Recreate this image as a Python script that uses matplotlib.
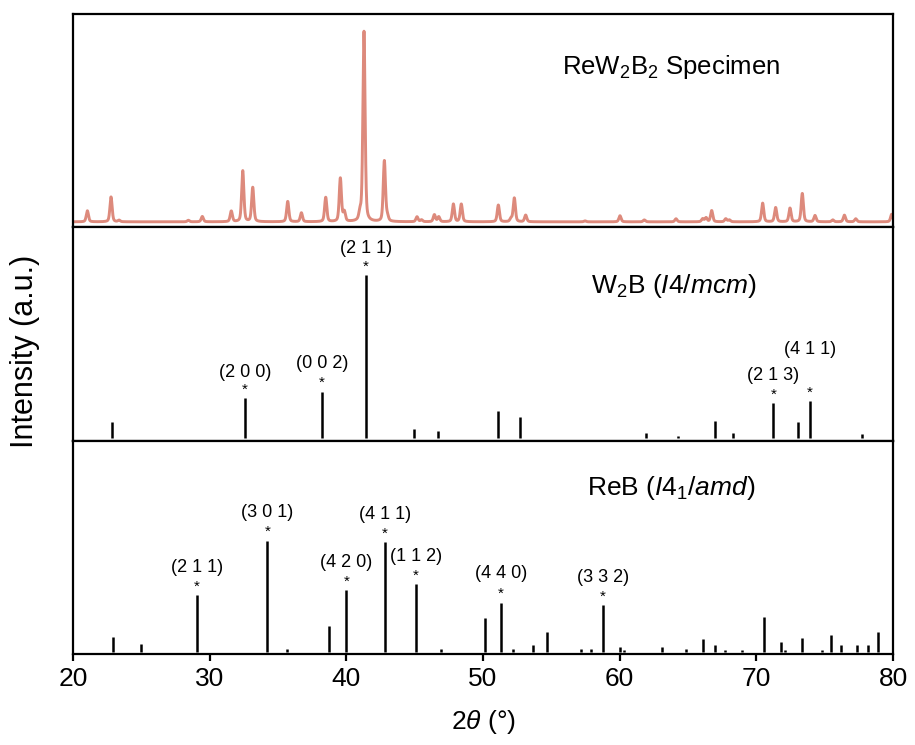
import numpy as np
import matplotlib
matplotlib.use("Agg")
import matplotlib.pyplot as plt

plt.rcParams['font.family'] = ['Liberation Sans', 'DejaVu Sans']
plt.rcParams['mathtext.fontset'] = 'custom'
plt.rcParams['mathtext.rm'] = 'Liberation Sans'
plt.rcParams['mathtext.it'] = 'Liberation Sans:italic'

# measured specimen pattern: peak positions (2theta) and relative heights
spec_pos = [21.05, 22.78, 23.37, 28.44, 29.46, 31.58, 32.42, 33.15, 35.71, 36.71,
            38.49, 39.56, 39.85, 41.00, 41.29, 42.78, 43.00, 45.17, 45.50, 46.44,
            46.76, 47.83, 48.41, 51.12, 52.05, 52.29, 53.12, 57.46, 60.02, 61.80,
            64.12, 66.07, 66.32, 66.73, 67.76, 68.02, 70.46, 71.41, 72.46, 73.36,
            74.29, 75.59, 76.44, 77.27, 79.90]
spec_int = [5.8, 13.1, 0.8, 0.8, 2.8, 5.6, 26.8, 18.0, 10.7, 4.7,
            12.8, 22.8, 5.0, 4.0, 100.0, 31.9, 2.5, 2.6, 1.0, 3.7,
            2.6, 9.3, 9.3, 8.8, 1.6, 12.5, 3.5, 0.5, 3.2, 1.0,
            1.6, 1.6, 2.1, 5.9, 1.6, 1.0, 9.8, 7.5, 7.2, 14.9,
            3.3, 1.0, 3.5, 1.6, 4.0]

# W2B (I4/mcm) reference lines
w2b_pos = [22.88, 32.59, 38.20, 41.41, 44.97, 46.73, 51.07, 52.68, 61.90, 64.27,
           66.95, 68.31, 71.24, 73.07, 73.93, 77.75]
w2b_int = [10.0, 24.3, 28.4, 100.0, 5.7, 4.3, 16.7, 12.7, 3.1, 1.4,
           10.6, 2.9, 21.4, 9.6, 22.5, 2.3]
w2b_hkl = ['(2 0 0)', '(0 0 2)', '(2 1 1)', '(2 1 3)', '(4 1 1)']
w2b_hkl_pos = [32.59, 38.20, 41.41, 71.24, 73.93]

# ReB (I41/amd) reference lines
reb_pos = [22.95, 24.95, 29.07, 34.22, 35.63, 38.71, 40.00, 42.83, 45.07, 46.95,
           50.15, 51.29, 52.22, 53.63, 54.66, 57.15, 57.88, 58.76, 60.02, 60.32,
           63.07, 64.83, 66.07, 66.98, 67.73, 68.97, 70.58, 71.80, 72.07, 73.36,
           74.83, 75.46, 76.17, 77.34, 78.20, 78.93]
reb_int = [13.7, 7.2, 51.0, 100.0, 2.7, 23.3, 55.8, 98.5, 61.1, 2.7,
           30.4, 44.5, 3.3, 6.3, 18.5, 2.7, 2.7, 42.1, 4.5, 2.4,
           5.1, 3.0, 12.3, 6.9, 2.4, 2.4, 31.3, 9.2, 2.4, 13.2,
           2.4, 15.5, 6.3, 6.3, 6.3, 17.9]
reb_hkl = ['(2 1 1)', '(3 0 1)', '(4 2 0)', '(4 1 1)', '(1 1 2)', '(4 4 0)', '(3 3 2)']
reb_hkl_pos = [29.07, 34.22, 40.00, 42.83, 45.07, 51.29, 58.76]


def pseudo_voigt(x, x0, h, fwhm=0.19, eta=0.4):
    g = np.exp(-4 * np.log(2) * (x - x0) ** 2 / fwhm ** 2)
    l = 1 / (1 + 4 * (x - x0) ** 2 / fwhm ** 2)
    return h * (eta * l + (1 - eta) * g)


def label_lines(ax, labels, positions, pos, inten, raise_px):
    for lab, x0 in zip(labels, positions):
        h = inten[pos.index(x0)]
        ax.annotate('*', (x0, h), xytext=(0, 4.5), textcoords='offset pixels',
                    ha='center', va='baseline', fontsize=11)
        ax.annotate(lab, (x0, h), xytext=(0, raise_px.get(lab, 28)),
                    textcoords='offset pixels', ha='center', va='center', fontsize=13)


fig = plt.figure(figsize=(9.15, 7.45), dpi=100)
gs = fig.add_gridspec(3, 1, left=0.0798, right=0.976, bottom=0.1221, top=0.9812, hspace=0)
ax1 = fig.add_subplot(gs[0])
ax2 = fig.add_subplot(gs[1], sharex=ax1)
ax3 = fig.add_subplot(gs[2], sharex=ax1)

tt = np.arange(20, 80.001, 0.005)
profile = np.zeros_like(tt)
for x0, h in zip(spec_pos, spec_int):
    profile += pseudo_voigt(tt, x0, h)
ax1.plot(tt, profile, color='#dd8a7c', lw=2.1)
ax1.set_ylim(-2.9, 109.3)
ax1.text(0.730, 0.752, r'ReW$_2$B$_2$ Specimen', transform=ax1.transAxes,
         ha='center', va='center', fontsize=18.5)

ax2.vlines(w2b_pos, 0, w2b_int, color='black', lw=1.8)
ax2.set_ylim(-1.65, 129.1)
label_lines(ax2, w2b_hkl, w2b_hkl_pos, w2b_pos, w2b_int, {'(4 1 1)': 52, '(2 1 1)': 26, '(2 0 0)': 26})
ax2.text(0.732, 0.723, r'W$_2$B ($\mathit{I4/mcm}$)', transform=ax2.transAxes,
         ha='center', va='center', fontsize=19)

ax3.vlines(reb_pos, 0, reb_int, color='black', lw=1.8)
ax3.set_ylim(-1.5, 189.6)
label_lines(ax3, reb_hkl, reb_hkl_pos, reb_pos, reb_int, {'(4 4 0)': 29})
ax3.text(0.730, 0.779, r'ReB ($\mathit{I4_1/amd}$)', transform=ax3.transAxes,
         ha='center', va='center', fontsize=19)

for ax in (ax1, ax2, ax3):
    for sp in ax.spines.values():
        sp.set_linewidth(1.6)
    ax.set_yticks([])
    ax.set_xlim(20, 80)
ax1.tick_params(axis='x', bottom=False, labelbottom=False)
ax2.tick_params(axis='x', bottom=False, labelbottom=False)
ax3.set_xticks([20, 30, 40, 50, 60, 70, 80])
ax3.tick_params(axis='x', direction='out', length=5, width=1.6, labelsize=19, pad=4)

fig.text(0.528, 0.031, r'2$\theta$ (°)', ha='center', va='center', fontsize=19)
fig.text(0.027, 0.529, 'Intensity (a.u.)', rotation=90, ha='center', va='center', fontsize=22)

fig.savefig('out.png', dpi=100)
